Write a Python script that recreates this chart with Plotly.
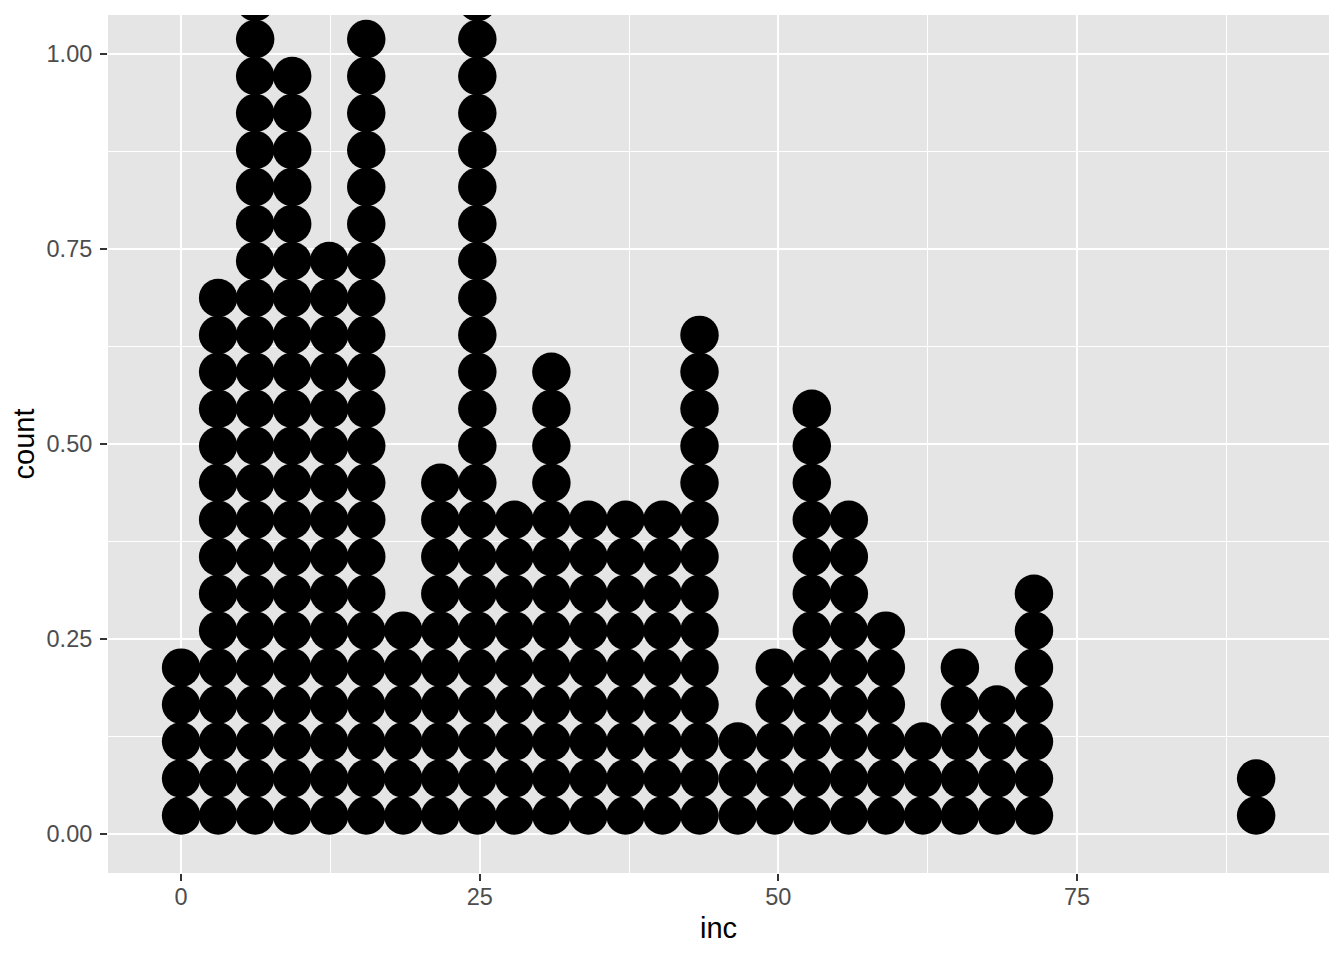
import plotly.graph_objects as go

# Bin centres of the dot stacks (inc) and number of dots in each stack
inc_bins = [0.0, 3.1, 6.2, 9.3, 12.4, 15.5, 18.6, 21.7, 24.8, 27.9, 31.0, 34.1,
            37.2, 40.3, 43.4, 46.6, 49.7, 52.8, 55.9, 59.0, 62.1, 65.2, 68.3, 71.4, 90.0]
dot_counts = [5, 15, 23, 21, 16, 22, 6, 10, 23, 9, 13, 9,
              9, 9, 14, 3, 5, 12, 9, 6, 3, 5, 4, 7, 2]

x_ticks = [0, 25, 50, 75]
y_ticks = [0.00, 0.25, 0.50, 0.75, 1.00]
y_tick_labels = ["0.00", "0.25", "0.50", "0.75", "1.00"]

stack_step = 0.0474  # vertical spacing of stacked dots in count units

xs, ys = [], []
for xc, n in zip(inc_bins, dot_counts):
    for k in range(n):
        xs.append(xc)
        ys.append((k + 0.5) * stack_step)

fig = go.Figure(go.Scatter(
    x=xs, y=ys, mode="markers",
    marker=dict(size=38.5, color="black", line=dict(width=0)),
    cliponaxis=True, hoverinfo="skip", showlegend=False,
))

font = "Liberation Sans, Arial, Helvetica, sans-serif"
axis_common = dict(
    showline=False, zeroline=False, automargin=False,
    gridcolor="white", gridwidth=2.2,
    ticks="outside", ticklen=7, tickwidth=2, tickcolor="#333333",
    tickfont=dict(family=font, size=23.5, color="#4d4d4d"),
)

fig.update_xaxes(
    range=[-6.12, 96.1], tickvals=x_ticks, ticktext=[str(v) for v in x_ticks],
    ticklabelstandoff=-4,
    title=dict(text="inc", font=dict(family=font, size=29, color="black"), standoff=8),
    minor=dict(tickvals=[12.5, 37.5, 62.5, 87.5], showgrid=True, gridcolor="white", gridwidth=1.1, ticks=""),
    **axis_common,
)
fig.update_yaxes(
    range=[-0.05, 1.05], tickvals=y_ticks, ticktext=y_tick_labels,
    ticklabelstandoff=3,
    title=dict(text="count", font=dict(family=font, size=29, color="black"), standoff=9),
    minor=dict(tickvals=[0.125, 0.375, 0.625, 0.875], showgrid=True, gridcolor="white", gridwidth=1.1, ticks=""),
    **axis_common,
)

fig.update_layout(
    width=1344, height=960,
    margin=dict(l=100, r=23, t=7, b=95),
    plot_bgcolor="#e5e5e5", paper_bgcolor="white",
    font=dict(family=font),
)

fig.write_html("out.html")
